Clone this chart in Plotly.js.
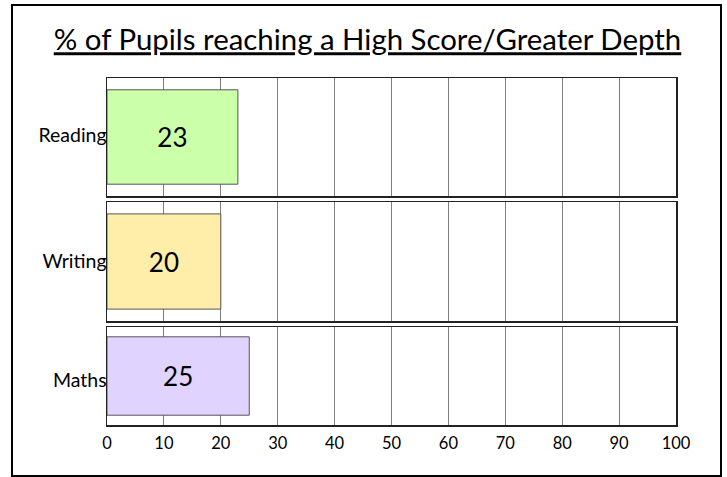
<!DOCTYPE html>
<html><head><meta charset="utf-8">
<script src="https://cdn.plot.ly/plotly-3.0.1.min.js"></script>
<style>html,body{margin:0;padding:0;background:#fff}#chart{width:727px;height:477px}</style>
</head><body><div id="chart"></div>
<script>
const subjects = ['Reading', 'Writing', 'Maths'];
const values = [23, 20, 25];
const barColors = ['#CCFFAA', '#FFEEAA', '#E0D4FF'];
const xTicks = [0, 10, 20, 30, 40, 50, 60, 70, 80, 90, 100];
const titleText = '% of Pupils reaching a High Score/Greater Depth';

const W = 727, H = 477;
const M = {l: 107, r: 51, t: 78, b: 52};
const PW = W - M.l - M.r, PH = H - M.t - M.b;
const px2x = p => (p - M.l) / PW;
const px2y = p => (H - M.b - p) / PH;
const domains = [[px2y(196), 1], [px2y(321), px2y(202)], [0, px2y(327)]];
const labelShift = [-2, 0, 4];
const FONT = 'Lato, "Open Sans", sans-serif';

const traces = subjects.map((s, i) => ({
  type: 'bar', orientation: 'h',
  x: [values[i]], y: [s],
  xaxis: 'x' + (i ? i + 1 : ''), yaxis: 'y' + (i ? i + 1 : ''),
  marker: {color: barColors[i], line: {color: '#555555', width: 1}},
  text: [String(values[i])], textposition: 'inside', insidetextanchor: 'middle',
  constraintext: 'none', textfont: {family: FONT, size: 26, color: '#000'},
  hoverinfo: 'skip', showlegend: false
}));

const layout = {
  width: W, height: H, margin: M, paper_bgcolor: '#fff', plot_bgcolor: '#fff',
  bargap: 0.2, showlegend: false,
  title: {text: titleText, xref: 'container', yref: 'container', x: 367.5 / W, xanchor: 'center',
          y: 1 - 40 / H, yanchor: 'middle',
          font: {family: FONT, size: 29.4, color: '#000', lineposition: 'under'}},
  shapes: [{type: 'rect', xref: 'paper', yref: 'paper',
            x0: px2x(12), x1: px2x(721), y0: px2y(476), y1: px2y(5),
            line: {color: '#000', width: 2}, fillcolor: 'rgba(0,0,0,0)', layer: 'above'}]
};
subjects.forEach((s, i) => {
  const k = i ? i + 1 : '';
  layout['xaxis' + k] = {
    anchor: 'y' + k, domain: [0, 1], range: [0, 100], tickvals: xTicks, ticktext: xTicks.map(String),
    showgrid: true, gridcolor: '#808080', gridwidth: 1, zeroline: false,
    showline: true, linecolor: '#222', linewidth: 1.5, mirror: true, ticks: '',
    showticklabels: i === subjects.length - 1, ticklabelstandoff: 3,
    tickfont: {family: FONT, size: 16.5, color: '#000'}, fixedrange: true
  };
  layout['yaxis' + k] = {
    anchor: 'x' + k, domain: domains[i], type: 'category', range: [-0.5, 0.5],
    showgrid: false, zeroline: false, showline: true, linecolor: '#222', linewidth: 1.5, mirror: true,
    ticks: '', ticklabelstandoff: -5, ticklabelshift: labelShift[i],
    tickfont: {family: FONT, size: 19.5, color: '#000'}, fixedrange: true
  };
});
Plotly.newPlot('chart', traces, layout, {displayModeBar: false, staticPlot: true});
</script></body></html>
